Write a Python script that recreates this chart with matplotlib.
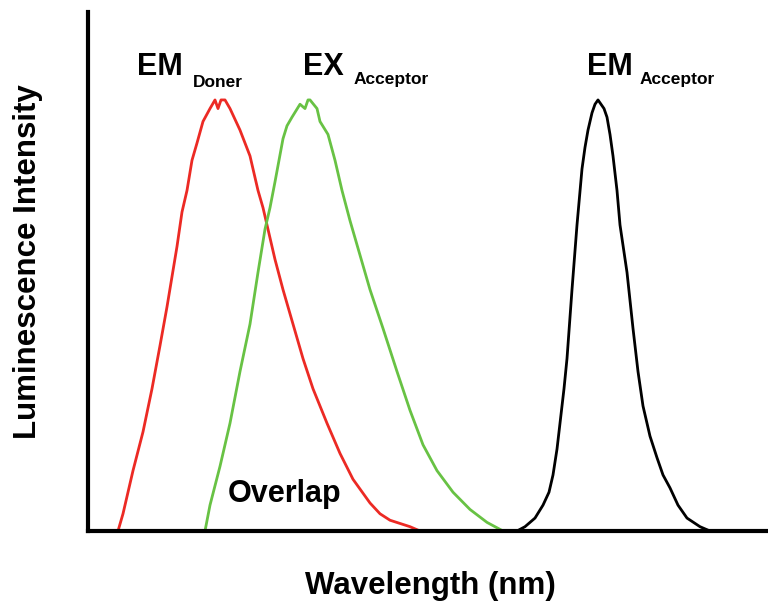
import matplotlib
matplotlib.use("Agg")
import matplotlib.pyplot as plt

plt.rcParams['font.family'] = ['Liberation Sans', 'DejaVu Sans']
plt.rcParams['font.weight'] = 'bold'

# donor emission spectrum
donor_em_nm = [415, 417.5, 422.5, 427.5, 432, 436, 439.5, 442, 444.5, 447, 449.5,
               452, 454.5, 457.5, 461, 463.5, 465, 466.5, 468.5, 471, 476, 481,
               485, 487.5, 489.5, 493.5, 497.5, 502.5, 507.5, 512.5, 519.5, 526,
               532.5, 541, 546, 551, 561, 566]
donor_em_int = [0.00, 0.04, 0.14, 0.23, 0.33, 0.43, 0.52, 0.59, 0.66, 0.74, 0.79,
                0.86, 0.90, 0.95, 0.98, 1.00, 0.98, 1.00, 1.00, 0.98, 0.93, 0.87,
                0.79, 0.75, 0.71, 0.63, 0.56, 0.48, 0.40, 0.33, 0.25, 0.18,
                0.12, 0.065, 0.04, 0.025, 0.01, 0.00]

# acceptor excitation spectrum
acc_ex_nm = [458.5, 461, 466, 471, 476, 481, 485, 488.5, 491, 493.5, 495.5, 497.5,
             499.5, 502, 506, 508.5, 510, 511, 514.5, 516, 520, 523.5, 527, 531,
             536, 541, 547.5, 554.5, 561, 567.5, 574.5, 582.5, 591, 599.5, 607.5]
acc_ex_int = [0.00, 0.06, 0.15, 0.25, 0.37, 0.48, 0.60, 0.70, 0.75, 0.81, 0.86, 0.91,
              0.94, 0.96, 0.99, 0.98, 1.00, 1.00, 0.98, 0.95, 0.92, 0.86, 0.79, 0.72,
              0.64, 0.56, 0.47, 0.37, 0.28, 0.20, 0.14, 0.09, 0.05, 0.02, 0.00]

# acceptor emission spectrum
acc_em_nm = [614.5, 618.5, 623.5, 627.5, 630.5, 632.5, 634.5, 636, 638, 639.5, 642,
             644.5, 647, 648.5, 650, 652, 653.5, 655, 656.5, 658, 659.5, 661, 662.5,
             664.5, 666, 669.5, 672.5, 675, 677.5, 681, 684.5, 687.5, 691, 695,
             699.5, 706, 711]
acc_em_int = [0.00, 0.01, 0.03, 0.06, 0.09, 0.13, 0.19, 0.25, 0.33, 0.40, 0.56,
              0.71, 0.84, 0.89, 0.93, 0.97, 0.99, 1.00, 0.99, 0.98, 0.96, 0.92, 0.87,
              0.79, 0.71, 0.60, 0.47, 0.37, 0.29, 0.22, 0.17, 0.13, 0.10, 0.06,
              0.03, 0.01, 0.00]

fig = plt.figure(figsize=(7.68, 6.08), dpi=100)
ax = fig.add_axes([88 / 768, 77 / 608, 680 / 768, 519 / 608])

line_kw = dict(lw=2.0, solid_joinstyle='round', solid_capstyle='round')
ax.plot(donor_em_nm, donor_em_int, color='#ec2a24', **line_kw)
ax.plot(acc_ex_nm, acc_ex_int, color='#68c244', **line_kw)
ax.plot(acc_em_nm, acc_em_int, color='black', **line_kw)

ax.set_xlim(400, 740)
ax.set_ylim(0, 1.204)
ax.set_xticks([])
ax.set_yticks([])
for side in ['top', 'right']:
    ax.spines[side].set_visible(False)
for side in ['left', 'bottom']:
    ax.spines[side].set_linewidth(3)

# peak labels with subscripts
ax.text(424.5, 1.058, 'EM', fontsize=22, fontweight='bold', va='baseline')
ax.text(452.5, 1.030, 'Doner', fontsize=12.5, fontweight='bold', va='baseline')
ax.text(507.5, 1.058, 'EX', fontsize=22, fontweight='bold', va='baseline')
ax.text(533, 1.036, 'Acceptor', fontsize=12.5, fontweight='bold', va='baseline')
ax.text(649.5, 1.058, 'EM', fontsize=22, fontweight='bold', va='baseline')
ax.text(676, 1.036, 'Acceptor', fontsize=12.5, fontweight='bold', va='baseline')
ax.text(470, 0.067, 'Overlap', fontsize=22, fontweight='bold', va='baseline')

fig.text(430 / 768, 1 - 586 / 608, 'Wavelength (nm)', fontsize=22.5,
         fontweight='bold', ha='center', va='center')
fig.text(28 / 768, 1 - 262 / 608, 'Luminescence Intensity', fontsize=22.5,
         fontweight='bold', ha='center', va='center', rotation=90)

fig.savefig('out.png', dpi=100)
